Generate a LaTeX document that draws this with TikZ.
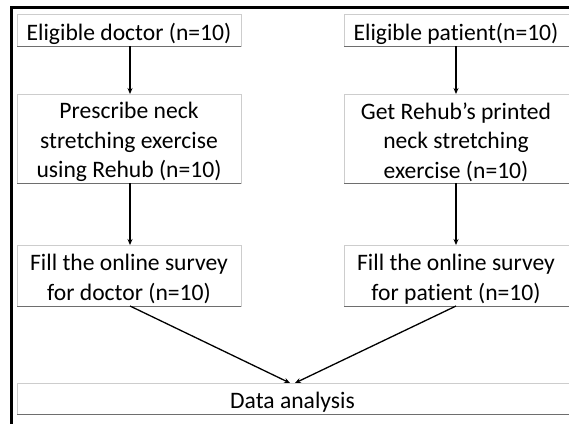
\documentclass[tikz,border=0pt]{standalone}
\usepackage{fontspec}
\setmainfont[Ligatures=NoCommon]{Carlito}
\usetikzlibrary{arrows.meta}

\definecolor{edgelight}{RGB}{205,205,205}
\definecolor{edgedark}{RGB}{110,110,110}

\begin{document}
\begin{tikzpicture}[x=1pt,y=-1pt,
  stepbox/.style={draw=edgelight, line width=0.8pt, fill=white,
    minimum width=224pt, inner sep=0pt, outer sep=0pt},
  boxtext/.style={align=center, inner sep=0pt,
    font=\fontsize{23.6}{29.5}\selectfont},
  underline/.style={draw=edgedark, line width=0.9pt},
  arr/.style={line width=1.3pt, -{Stealth[length=6pt,width=5pt]}},
  frame/.style={line width=2.4pt, line cap=rect}]

\useasboundingbox (0,0) rectangle (569,423);

% outer frame (left and top sides)
\draw[frame] (11.3,430) -- (11.3,7.3) -- (575,7.3);

% doctor column
\node[stepbox, minimum height=32pt] (d1) at (129,30) {};
\node[boxtext] (d1t) at ([yshift=-4pt]d1.center) {Eligible doctor (n=10)};
\node[stepbox, minimum height=89pt] (d2) at (129,138.5) {};
\node[boxtext] (d2t) at ([yshift=-3.5pt]d2.center) {Prescribe neck\\stretching exercise\\using Rehub (n=10)};
\node[stepbox, minimum height=61pt] (d3) at (129,275.5) {};
\node[boxtext] (d3t) at ([yshift=-3.5pt]d3.center) {Fill the online survey\\for doctor (n=10)};

% patient column (runs off the right side)
\node[stepbox, minimum width=226pt, minimum height=32pt] (p1) at (457,30) {};
\node[boxtext] (p1t) at ([yshift=-4pt]456,30) {Eligible patient(n=10)};
\node[stepbox, minimum width=226pt, minimum height=89pt] (p2) at (457,138.5) {};
\node[boxtext] (p2t) at ([yshift=-3.5pt]456,138.5) {Get Rehub’s printed\\neck stretching\\exercise (n=10)};
\node[stepbox, minimum width=226pt, minimum height=61pt] (p3) at (457,275.5) {};
\node[boxtext] (p3t) at ([yshift=-3.5pt]456,275.5) {Fill the online survey\\for patient (n=10)};

% shared analysis step
\node[stepbox, minimum width=553pt, minimum height=31pt] (an) at (293.5,398.5) {};
\node[boxtext] (ant) at ([yshift=-4pt]292.5,398.5) {Data analysis};

% darker lower edges
\foreach \b in {d1,d2,d3,p1,p2,p3,an}
  \draw[underline] (\b.south west) -- (\b.south east);

% connectors
\draw[arr] ([xshift=1pt]d1.south) -- ([xshift=1pt]d2.north);
\draw[arr] ([xshift=1pt]d2.south) -- ([xshift=1pt]d3.north);
\draw[arr] ([xshift=-1pt]p1.south) -- ([xshift=-1pt]p2.north);
\draw[arr] ([xshift=-1pt]p2.south) -- ([xshift=-1pt]p3.north);
\draw[arr] ([xshift=1pt]d3.south) -- ([xshift=-3.5pt]an.north);
\draw[arr] ([xshift=-1pt]p3.south) -- ([xshift=1.5pt]an.north);
\end{tikzpicture}
\end{document}
